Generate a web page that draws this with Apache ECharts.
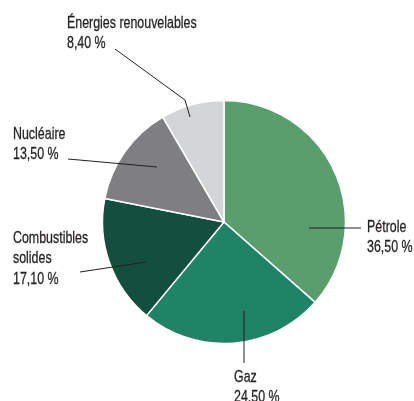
<!DOCTYPE html>
<html>
<head>
<meta charset="utf-8">
<script src="https://cdn.jsdelivr.net/npm/echarts@6/dist/echarts.min.js"></script>
<style>
  html, body { margin: 0; padding: 0; background: #ffffff; }
  #chart { width: 414px; height: 401px; }
</style>
</head>
<body>
<div id="chart"></div>
<script>
// Energy mix, share of each source in percent
const sources = ['Pétrole', 'Gaz', 'Combustibles\nsolides', 'Nucléaire', 'Énergies renouvelables'];
const shares = [36.5, 24.5, 17.1, 13.5, 8.4];
const sliceColors = ['#5b9e6e', '#1f8466', '#124f3c', '#7f7f82', '#d4d5d7'];

// Pie geometry (pixels)
const CX = 224, CY = 222, R = 121.5;

// Where each label sits (top-left of text block) and the path of its leader line,
// which starts in the label's margin and ends inside the slice.
const labelLayouts = [
  { x: 367, y: 216, line: [[361, 228], [309, 228]] },
  { x: 234, y: 366, line: [[244, 363], [244, 311]] },
  { x: 13,  y: 227, line: [[80, 272], [146, 262]] },
  { x: 13,  y: 123, line: [[68, 159], [157, 167]] },
  { x: 67,  y: 12,  line: [[115, 49], [185, 100], [190, 117]] }
];

// Condensed look: a regular sans squeezed horizontally
const LABEL_FONT = { family: '"Liberation Sans", Arial, sans-serif', size: 17, squeeze: 0.73, lineHeight: 20.5 };

function formatShare(v) {
  return v.toFixed(2).replace('.', ',') + ' %';
}

const leaderLines = labelLayouts.map(l => ({
  type: 'polyline',
  z: 100,
  silent: true,
  shape: { points: l.line },
  style: { stroke: '#231f20', lineWidth: 1, fill: null }
}));

const labelTexts = sources.map((name, i) => ({
  type: 'text',
  z: 100,
  silent: true,
  x: labelLayouts[i].x,
  y: labelLayouts[i].y + 1,
  scaleX: LABEL_FONT.squeeze,
  style: {
    text: name + '\n' + formatShare(shares[i]),
    fill: '#231f20',
    stroke: '#231f20',
    lineWidth: 0.3,
    fontFamily: LABEL_FONT.family,
    fontSize: LABEL_FONT.size,
    lineHeight: LABEL_FONT.lineHeight,
    align: 'left',
    verticalAlign: 'top'
  }
}));

const chart = echarts.init(document.getElementById('chart'), null, { renderer: 'canvas' });

chart.setOption({
  animation: false,
  backgroundColor: '#ffffff',
  graphic: leaderLines.concat(labelTexts),
  series: [{
    type: 'pie',
    center: [CX, CY],
    radius: [0, R],
    startAngle: 90,
    clockwise: true,
    itemStyle: { borderColor: '#ffffff', borderWidth: 1.5 },
    label: { show: false },
    labelLine: { show: false },
    emphasis: { disabled: true },
    data: sources.map((name, i) => ({
      name: name,
      value: shares[i],
      itemStyle: { color: sliceColors[i] }
    }))
  }]
});
</script>
</body>
</html>
